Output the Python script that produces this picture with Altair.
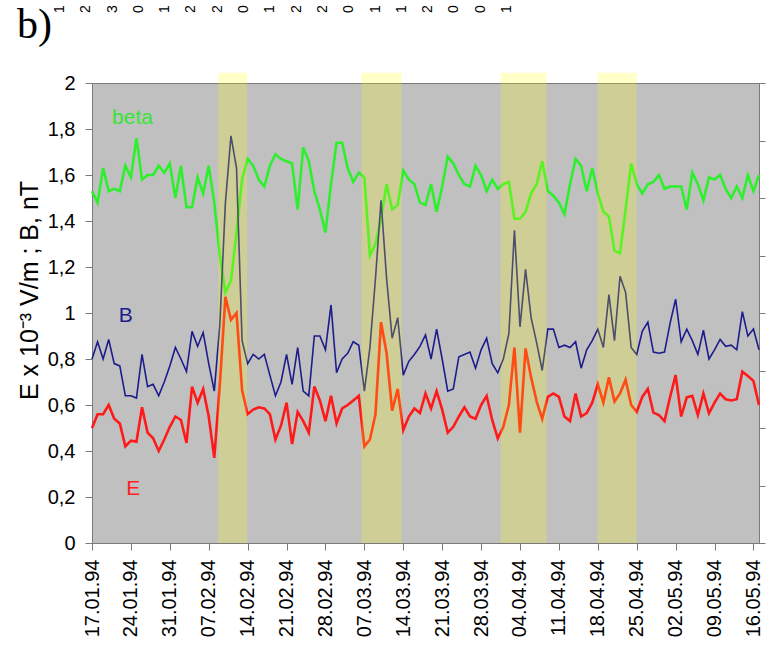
import altair as alt
import pandas as pd

# ---------------- data ----------------
start_date = "1994-01-17"
n_days = 121

beta = [
    1.53, 1.48, 1.63, 1.53, 1.54, 1.53, 1.64, 1.59, 1.76, 1.58,
    1.60, 1.60, 1.64, 1.61, 1.65, 1.50, 1.64, 1.46, 1.46, 1.59,
    1.52, 1.64, 1.48, 1.25, 1.09, 1.14, 1.35, 1.58, 1.67, 1.64,
    1.58, 1.55, 1.64, 1.69, 1.67, 1.66, 1.65, 1.45, 1.72, 1.66,
    1.53, 1.45, 1.35, 1.56, 1.74, 1.74, 1.63, 1.57, 1.61, 1.59,
    1.25, 1.30, 1.41, 1.56, 1.45, 1.47, 1.62, 1.58, 1.56, 1.48,
    1.47, 1.56, 1.44, 1.55, 1.68, 1.65, 1.60, 1.56, 1.55, 1.64,
    1.60, 1.53, 1.58, 1.54, 1.56, 1.57, 1.41, 1.41, 1.44, 1.52,
    1.56, 1.66, 1.53, 1.51, 1.48, 1.43, 1.56, 1.67, 1.64, 1.53,
    1.63, 1.52, 1.44, 1.42, 1.27, 1.26, 1.45, 1.65, 1.56, 1.52,
    1.56, 1.57, 1.60, 1.54, 1.55, 1.55, 1.55, 1.45, 1.61, 1.56,
    1.49, 1.59, 1.58, 1.60, 1.54, 1.50, 1.55, 1.50, 1.60, 1.53,
    1.60,
]

B = [
    0.80, 0.875, 0.80, 0.885, 0.78, 0.77, 0.64, 0.64, 0.63, 0.82,
    0.68, 0.69, 0.64, 0.70, 0.77, 0.85, 0.80, 0.745, 0.92, 0.855,
    0.915, 0.78, 0.66, 0.95, 1.48, 1.77, 1.63, 0.88, 0.78, 0.82,
    0.80, 0.82, 0.73, 0.64, 0.70, 0.82, 0.69, 0.85, 0.66, 0.64,
    0.90, 0.90, 0.84, 1.035, 0.74, 0.80, 0.825, 0.875, 0.86, 0.66,
    0.85, 1.15, 1.49, 1.15, 0.89, 0.98, 0.73, 0.79, 0.82, 0.855,
    0.905, 0.80, 0.93, 0.80, 0.66, 0.67, 0.81, 0.82, 0.83, 0.76,
    0.84, 0.89, 0.78, 0.74, 0.80, 0.91, 1.36, 0.94, 1.19, 0.98,
    0.87, 0.75, 0.93, 0.93, 0.85, 0.86, 0.85, 0.875, 0.76, 0.84,
    0.88, 0.93, 0.85, 1.08, 0.88, 1.16, 1.09, 0.85, 0.82, 0.92,
    0.96, 0.83, 0.825, 0.83, 0.955, 1.06, 0.875, 0.93, 0.88, 0.82,
    0.925, 0.80, 0.84, 0.885, 0.855, 0.86, 0.84, 1.006, 0.90, 0.93,
    0.84,
]

E = [
    0.50, 0.56, 0.56, 0.60, 0.54, 0.52, 0.42, 0.445, 0.44, 0.59,
    0.48, 0.455, 0.40, 0.45, 0.505, 0.55, 0.535, 0.435, 0.68, 0.61,
    0.67, 0.55, 0.37, 0.69, 1.07, 0.97, 1.00, 0.665, 0.56, 0.58,
    0.59, 0.585, 0.56, 0.45, 0.51, 0.61, 0.43, 0.57, 0.53, 0.48,
    0.68, 0.62, 0.53, 0.64, 0.52, 0.585, 0.60, 0.62, 0.64, 0.42,
    0.45, 0.56, 0.96, 0.825, 0.575, 0.67, 0.49, 0.55, 0.585, 0.565,
    0.65, 0.585, 0.66, 0.58, 0.48, 0.505, 0.55, 0.59, 0.55, 0.54,
    0.60, 0.64, 0.535, 0.455, 0.505, 0.60, 0.85, 0.48, 0.846, 0.72,
    0.615, 0.54, 0.635, 0.65, 0.635, 0.55, 0.53, 0.65, 0.55, 0.565,
    0.61, 0.69, 0.61, 0.72, 0.615, 0.65, 0.71, 0.60, 0.57, 0.635,
    0.67, 0.567, 0.556, 0.53, 0.635, 0.73, 0.55, 0.633, 0.64, 0.556,
    0.65, 0.564, 0.61, 0.65, 0.625, 0.62, 0.625, 0.745, 0.726, 0.705,
    0.60,
]

tick_dates = [
    (1, 17), (1, 24), (1, 31), (2, 7), (2, 14), (2, 21), (2, 28),
    (3, 7), (3, 14), (3, 21), (3, 28), (4, 4), (4, 11), (4, 18),
    (4, 25), (5, 2), (5, 9), (5, 16),
]
tick_labels = [
    "17.01.94", "24.01.94", "31.01.94", "07.02.94", "14.02.94", "21.02.94",
    "28.02.94", "07.03.94", "14.03.94", "21.03.94", "28.03.94", "04.04.94",
    "11.04.94", "18.04.94", "25.04.94", "02.05.94", "09.05.94", "16.05.94",
]
# the only visible characters of the (cropped) date labels of the panel above
top_digits = [lab[0] for lab in tick_labels]

band_start = ["1994-02-08T17:00:00", "1994-03-06T12:00:00",
              "1994-03-31T12:00:00", "1994-04-17T22:00:00"]
band_end = ["1994-02-13T22:00:00", "1994-03-13T17:00:00",
            "1994-04-08T19:00:00", "1994-04-25T00:00:00"]

y_ticks = [0, 0.2, 0.4, 0.6, 0.8, 1.0, 1.2, 1.4, 1.6, 1.8, 2.0]

series_labels = ["beta", "B", "E"]
series_label_dates = ["1994-01-24T07:00:00", "1994-01-23T02:00:00", "1994-01-24T10:00:00"]
series_label_values = [1.846, 0.987, 0.235]
series_colors = ["#33e633", "#1c1c8c", "#ff2222"]
line_colors = {"beta": "#2cf02c", "B": "#1c1c8c", "E": "#ff1a1a"}

# ---------------- tables ----------------
dates = pd.date_range(start_date, periods=n_days, freq="D").strftime("%Y-%m-%dT%H:%M:%S")
df = pd.DataFrame({"date": list(dates), "beta": beta, "B": B, "E": E})
bands = pd.DataFrame({"start": band_start, "end": band_end})
labels_df = pd.DataFrame({"date": series_label_dates, "value": series_label_values,
                          "label": series_labels, "color": series_colors})
top_df = pd.DataFrame({
    "date": [f"1994-{m:02d}-{d:02d}T00:00:00" for m, d in tick_dates],
    "lab": top_digits,
})

FONT = "Liberation Sans"
AX = "#7a7a7a"

x_scale = alt.Scale(domain=[alt.DateTime(year=1994, month=1, date=17),
                            alt.DateTime(year=1994, month=5, date=17)])
x_axis = alt.Axis(
    values=[alt.DateTime(year=1994, month=m, date=d) for m, d in tick_dates],
    format="%d.%m.%y", labelAngle=270, labelAlign="right", labelBaseline="middle",
    labelFont=FONT, labelFontSize=20, labelColor="black", labelPadding=9,
    labelOverlap=False, labelFlush=False, tickSize=7, tickColor=AX,
    domainColor=AX, grid=False, title=None,
)
y_scale = alt.Scale(domain=[0, 2], nice=False, zero=True)
y_axis = alt.Axis(
    values=y_ticks,
    labelExpr="replace(format(datum.value, '.1~f'), '.', ',')",
    labelFont=FONT, labelFontSize=20, labelColor="black", labelPadding=10,
    tickSize=7, tickColor=AX, domainColor=AX, grid=False,
    title="E x 10\u207b\u00b3 V/m ; B, nT", titleFont=FONT, titleFontSize=25,
    titleFontWeight="normal", titleColor="black", titleAngle=270,
    titleX=-63, titleY=207, titleAlign="center", titleBaseline="middle",
)

base = alt.Chart(df)

def series_line(field, width):
    return base.mark_line(color=line_colors[field], strokeWidth=width).encode(
        x=alt.X("date:T", scale=x_scale, axis=x_axis),
        y=alt.Y(f"{field}:Q", scale=y_scale, axis=y_axis),
    )

l_beta = series_line("beta", 2.6)
l_B = series_line("B", 1.6)
l_E = series_line("E", 2.6)

band_layer = alt.Chart(bands).mark_rect(color="#ffff00", opacity=0.22).encode(
    x=alt.X("start:T", scale=x_scale, axis=x_axis),
    x2="end:T",
    y=alt.datum(2.045),
    y2=alt.datum(0),
)

text_layer = alt.Chart(labels_df).mark_text(
    font=FONT, fontSize=21, align="center", baseline="middle"
).encode(
    x=alt.X("date:T", scale=x_scale, axis=x_axis),
    y=alt.Y("value:Q", scale=y_scale, axis=y_axis),
    text="label:N",
    color=alt.Color("color:N", scale=None),
)

main = alt.layer(l_beta, l_B, l_E, band_layer, text_layer)

right_axis = alt.Chart(pd.DataFrame({"r": [0, 8]})).mark_point(opacity=0).encode(
    y=alt.Y("r:Q", scale=alt.Scale(domain=[0, 8], nice=False),
            axis=alt.Axis(orient="right", values=list(range(9)), labels=False,
                          tickSize=6, tickColor=AX, domainColor=AX, grid=False,
                          title=None)),
)

inner = alt.layer(main, right_axis).resolve_scale(y="independent")

top_text = alt.Chart(top_df).mark_text(
    angle=270, align="left", baseline="middle", font=FONT, fontSize=14, color="black"
).encode(
    x=alt.X("date:T",
            scale=alt.Scale(domain=[alt.DateTime(year=1994, month=1, date=17),
                                    alt.DateTime(year=1994, month=5, date=16)],
                            range=[-32, 415]),
            axis=None),
    y=alt.value(-70),
    text="lab:N",
)

panel_label = alt.Chart(pd.DataFrame({"t": ["b)"]})).mark_text(
    font="Liberation Serif", fontSize=42, align="left", baseline="alphabetic",
    color="black"
).encode(x=alt.value(-75), y=alt.value(-45), text="t:N")

chart = alt.layer(inner, top_text, panel_label).resolve_scale(x="independent").properties(
    width=667, height=460,
    autosize=alt.AutoSizeParams(type="none"),
    padding={"left": 92, "top": 83, "right": 10, "bottom": 121},
    background="white",
).configure_view(fill="#c0c0c0", stroke="#7a7a7a", strokeWidth=1)

chart.save("out.html", embed_options={"renderer": "svg", "actions": False})
